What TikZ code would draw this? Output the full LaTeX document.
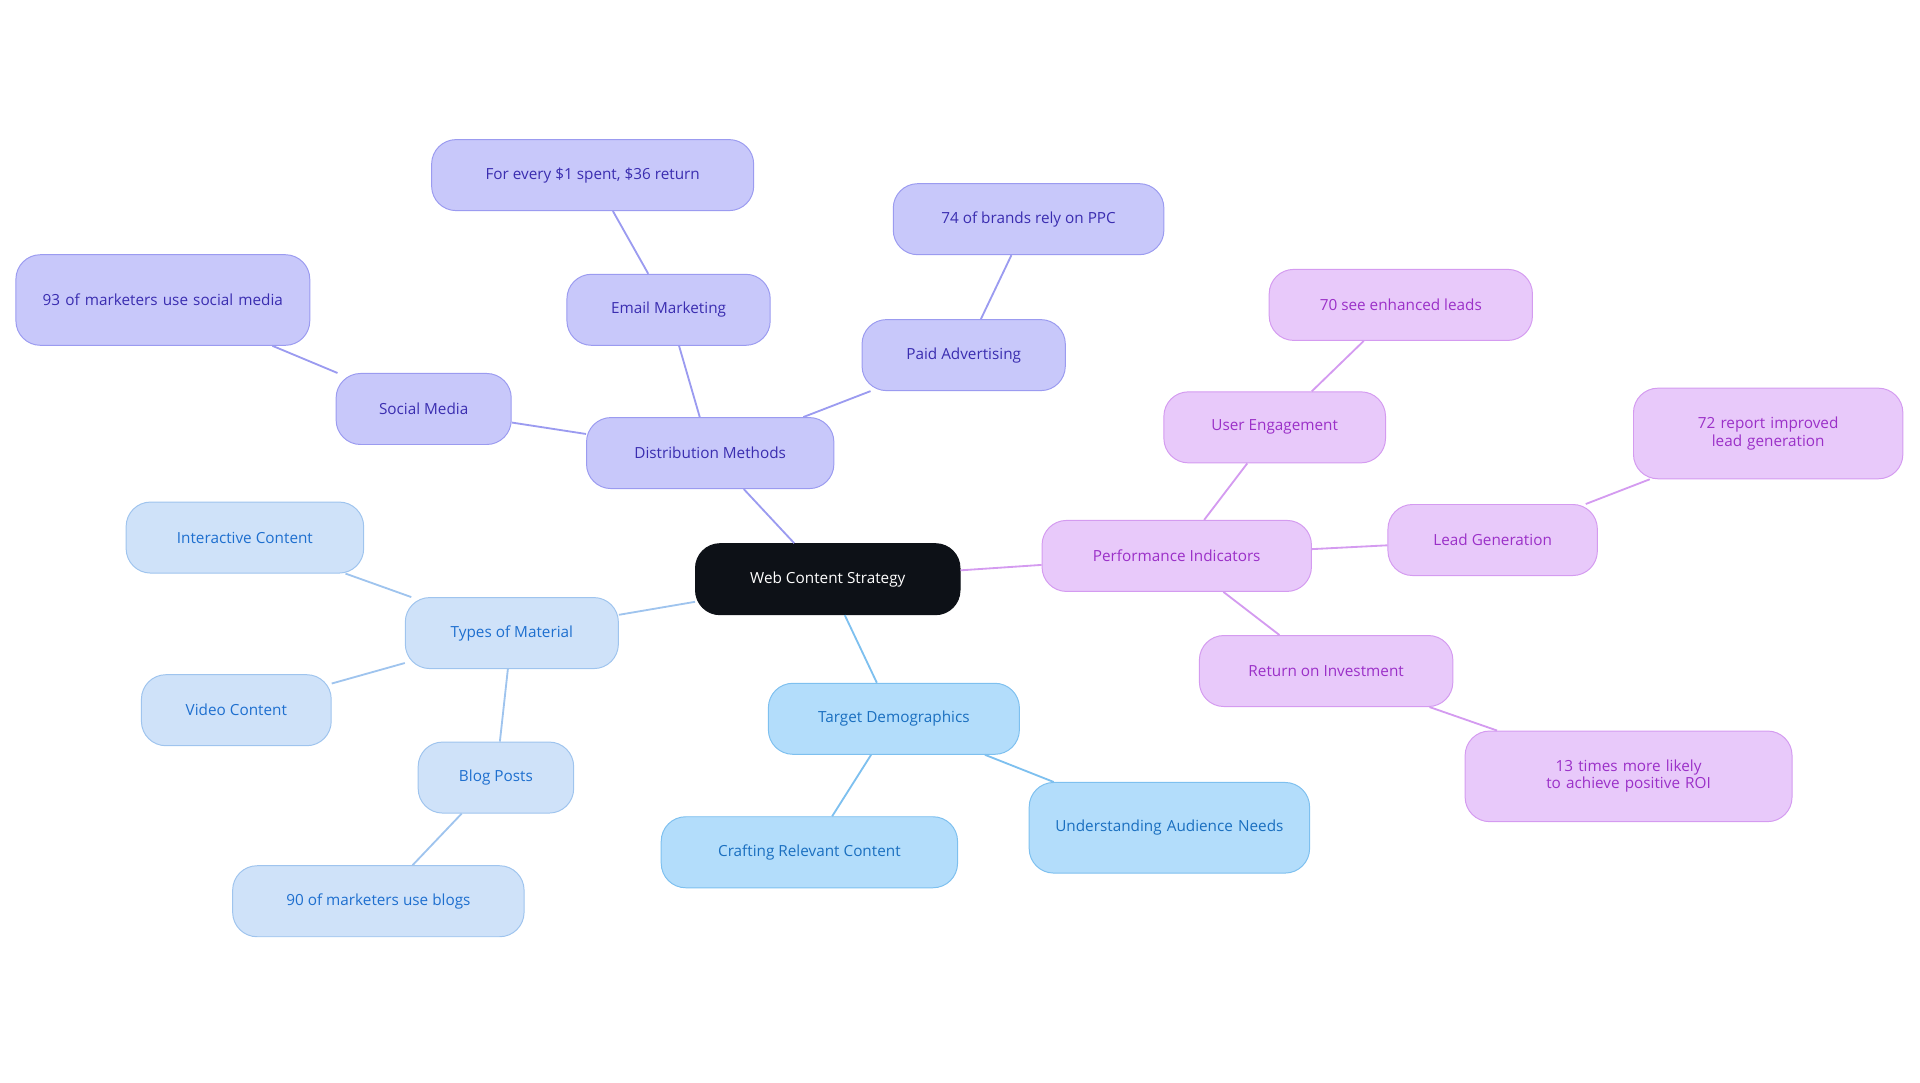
\documentclass[tikz,border=0pt]{standalone}
\usepackage{fontspec}
\setmainfont{Open Sans}
\begin{document}
\begin{tikzpicture}[x=1pt,y=-1pt,
 base/.style={rounded corners=20pt,draw,line width=0.8pt,minimum height=58pt,align=center,font=\fontsize{12.5}{14}\selectfont},
 dm/.style={base,fill={rgb,255:red,200;green,200;blue,250},draw={rgb,255:red,155;green,155;blue,240},text={rgb,255:red,58;green,45;blue,176}},
 tm/.style={base,fill={rgb,255:red,207;green,226;blue,249},draw={rgb,255:red,159;green,196;blue,238},text={rgb,255:red,30;green,111;blue,207}},
 td/.style={base,fill={rgb,255:red,179;green,221;blue,251},draw={rgb,255:red,126;green,192;blue,239},text={rgb,255:red,26;green,111;blue,192}},
 pi/.style={base,fill={rgb,255:red,232;green,201;blue,250},draw={rgb,255:red,212;green,155;blue,240},text={rgb,255:red,155;green,48;blue,200}},
 edm/.style={draw={rgb,255:red,155;green,155;blue,240},line width=1.5pt},
 etm/.style={draw={rgb,255:red,159;green,196;blue,238},line width=1.5pt},
 etd/.style={draw={rgb,255:red,126;green,192;blue,239},line width=1.5pt},
 epi/.style={draw={rgb,255:red,212;green,155;blue,240},line width=1.5pt}]
\useasboundingbox (0,0) rectangle (1568,884);
\node[base,fill={rgb,255:red,13;green,17;blue,23},draw={rgb,255:red,13;green,17;blue,23},text=white,minimum width=216pt] (root) at (676,473) {Web Content Strategy};
\node[dm,minimum width=202pt] (dmth) at (580,370) {Distribution Methods};
\node[dm,minimum width=143pt] (sm) at (346,334) {Social Media};
\node[dm,minimum width=240pt,minimum height=74pt,text width=210pt] (sm1) at (133,245) {93 of marketers use social media};
\node[dm,minimum width=166pt] (em) at (546,253) {Email Marketing};
\node[dm,minimum width=263pt] (em1) at (484,143) {For every \$1 spent, \$36 return};
\node[dm,minimum width=166pt] (pa) at (787,290) {Paid Advertising};
\node[dm,minimum width=221pt] (pa1) at (840,179) {74 of brands rely on PPC};
\node[pi,minimum width=220pt] (pind) at (961,454) {Performance Indicators};
\node[pi,minimum width=181pt] (ue) at (1041,349) {User Engagement};
\node[pi,minimum width=215pt] (ue1) at (1144,249) {70 see enhanced leads};
\node[pi,minimum width=171pt] (lg) at (1219,441) {Lead Generation};
\node[pi,minimum width=220pt,minimum height=74pt,text width=190pt] (lg1) at (1444,354) {72 report improved lead generation};
\node[pi,minimum width=207pt] (roi) at (1083,548) {Return on Investment};
\node[pi,minimum width=267pt,minimum height=74pt,text width=240pt] (roi1) at (1330,634) {13 times more likely to achieve positive ROI};
\node[tm,minimum width=174pt] (tom) at (418,517) {Types of Material};
\node[tm,minimum width=194pt] (ic) at (200,439) {Interactive Content};
\node[tm,minimum width=155pt] (vc) at (193,580) {Video Content};
\node[tm,minimum width=127pt] (bp) at (405,635) {Blog Posts};
\node[tm,minimum width=238pt] (bp1) at (309,736) {90 of marketers use blogs};
\node[td,minimum width=205pt] (tdem) at (730,587) {Target Demographics};
\node[td,minimum width=242pt] (cr) at (661,696) {Crafting Relevant Content};
\node[td,minimum width=229pt,minimum height=74pt,text width=200pt] (ua) at (955,676) {Understanding Audience Needs};
\draw[edm] (root)--(dmth); \draw[edm] (dmth)--(sm); \draw[edm] (sm)--(sm1);
\draw[edm] (dmth)--(em); \draw[edm] (em)--(em1); \draw[edm] (dmth)--(pa); \draw[edm] (pa)--(pa1);
\draw[epi] (root)--(pind); \draw[epi] (pind)--(ue); \draw[epi] (ue)--(ue1);
\draw[epi] (pind)--(lg); \draw[epi] (lg)--(lg1); \draw[epi] (pind)--(roi); \draw[epi] (roi)--(roi1);
\draw[etm] (root)--(tom); \draw[etm] (tom)--(ic); \draw[etm] (tom)--(vc); \draw[etm] (tom)--(bp); \draw[etm] (bp)--(bp1);
\draw[etd] (root)--(tdem); \draw[etd] (tdem)--(cr); \draw[etd] (tdem)--(ua);
\end{tikzpicture}
\end{document}
